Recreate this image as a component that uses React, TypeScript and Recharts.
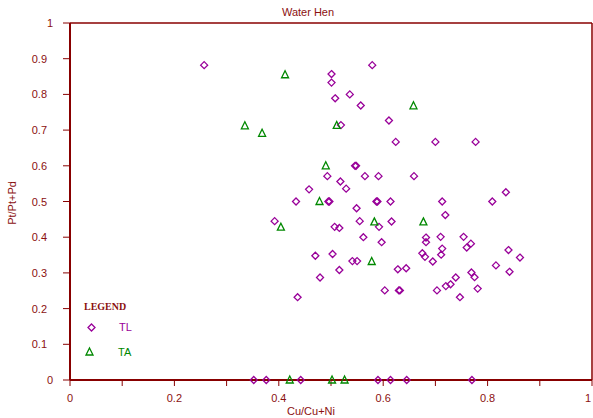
import React from "react";
import { ScatterChart, Scatter, XAxis, YAxis, ReferenceLine, Label } from "recharts";

const title = "Water Hen";
const xTitle = "Cu/Cu+Ni";
const yTitle = "Pt/Pt+Pd";
const seriesNames = ["TL", "TA"];

const tickValues = [0, 0.1, 0.2, 0.3, 0.4, 0.5, 0.6, 0.7, 0.8, 0.9, 1];
const xLabelValues = [0, 0.2, 0.4, 0.6, 0.8, 1];

const tlX = [
  0.257, 0.579, 0.501, 0.501, 0.508, 0.536, 0.557, 0.611, 0.519, 0.624,
  0.700, 0.777, 0.546, 0.548, 0.493, 0.565, 0.591, 0.659, 0.518, 0.458,
  0.529, 0.835, 0.433, 0.495, 0.497, 0.587, 0.589, 0.614, 0.713, 0.809,
  0.549, 0.719, 0.392, 0.555, 0.616, 0.507, 0.516, 0.592, 0.562, 0.597,
  0.682, 0.682, 0.710, 0.754, 0.768, 0.760, 0.713, 0.840, 0.470, 0.503,
  0.675, 0.711, 0.680, 0.862, 0.541, 0.550, 0.695, 0.816, 0.628, 0.644,
  0.516, 0.842, 0.769, 0.775, 0.739, 0.479, 0.729, 0.720, 0.781, 0.603,
  0.630, 0.632, 0.703, 0.436, 0.747,
  0.352, 0.376, 0.442, 0.590, 0.614, 0.645, 0.770,
];
const tlY = [
  0.882, 0.882, 0.857, 0.833, 0.789, 0.800, 0.769, 0.727, 0.714, 0.667,
  0.667, 0.667, 0.600, 0.600, 0.571, 0.571, 0.571, 0.571, 0.556, 0.534,
  0.536, 0.526, 0.500, 0.500, 0.500, 0.500, 0.500, 0.500, 0.500, 0.500,
  0.481, 0.462, 0.445, 0.445, 0.444, 0.429, 0.426, 0.429, 0.400, 0.386,
  0.399, 0.386, 0.401, 0.401, 0.382, 0.371, 0.368, 0.364, 0.348, 0.353,
  0.355, 0.351, 0.345, 0.343, 0.333, 0.333, 0.332, 0.321, 0.310, 0.313,
  0.308, 0.303, 0.301, 0.288, 0.287, 0.287, 0.268, 0.263, 0.256, 0.251,
  0.251, 0.251, 0.251, 0.232, 0.232,
  0, 0, 0, 0, 0, 0, 0,
];

const taX = [0.412, 0.335, 0.368, 0.511, 0.658, 0.490, 0.478, 0.404, 0.583, 0.677, 0.578, 0.421, 0.502, 0.526];
const taY = [0.855, 0.712, 0.691, 0.713, 0.768, 0.600, 0.500, 0.428, 0.443, 0.443, 0.332, 0, 0, 0];

const tlData = tlX.map((x, i) => ({ x, y: tlY[i] }));
const taData = taX.map((x, i) => ({ x, y: taY[i] }));

const AXIS = "#880000";
const TEXT = "#8b1010";
const PURPLE = "#990099";
const GREEN = "#008800";
const FONT = "'Liberation Sans', Arial, sans-serif";
const CHART_W = 593;
const CHART_H = 418;

const Diamond = (props: any) => {
  const { cx, cy } = props;
  if (cx == null || cy == null) return null;
  const r = 3.5;
  return (
    <path
      d={`M${cx},${cy - r}L${cx + r},${cy}L${cx},${cy + r}L${cx - r},${cy}Z`}
      fill="none"
      stroke={PURPLE}
      strokeWidth={1.3}
    />
  );
};

const Triangle = (props: any) => {
  const { cx, cy } = props;
  if (cx == null || cy == null) return null;
  return (
    <path
      d={`M${cx},${cy - 4}L${cx + 3.5},${cy + 3}L${cx - 3.5},${cy + 3}Z`}
      fill="none"
      stroke={GREEN}
      strokeWidth={1.3}
    />
  );
};

const YTick = (props: any) => {
  const { x, y, payload } = props;
  const v = payload.value;
  const isInt = Math.abs(v - Math.round(v)) < 1e-9;
  const label = isInt ? String(Math.round(v)) : v.toFixed(1);
  return (
    <text
      x={isInt ? x - 8 : x - 14}
      y={y}
      textAnchor="end"
      dominantBaseline="central"
      fill={TEXT}
      fontSize={11}
      fontFamily={FONT}
    >
      {label}
    </text>
  );
};

const XTick = (props: any) => {
  const { x, y, payload } = props;
  const v = payload.value;
  const show = xLabelValues.some((t) => Math.abs(t - v) < 1e-9);
  if (!show) return null;
  const isInt = Math.abs(v - Math.round(v)) < 1e-9;
  const label = isInt ? String(Math.round(v)) : v.toFixed(1);
  const tx = Math.min(x, CHART_W - 5);
  return (
    <text
      x={tx}
      y={y + 10}
      textAnchor="middle"
      dominantBaseline="central"
      fill={TEXT}
      fontSize={11}
      fontFamily={FONT}
    >
      {label}
    </text>
  );
};

export default function App() {
  return (
    <div style={{ position: "absolute", left: 0, top: 0, width: CHART_W, height: CHART_H, background: "#fff" }}>
      <ScatterChart
        width={CHART_W}
        height={CHART_H}
        margin={{ top: 23, right: 1, bottom: 8, left: 10 }}
      >
        <XAxis
          type="number"
          dataKey="x"
          domain={[0, 1]}
          ticks={tickValues}
          interval={0}
          height={30}
          axisLine={{ stroke: AXIS, strokeWidth: 2 }}
          tickLine={{ stroke: AXIS, strokeWidth: 1 }}
          tickSize={6}
          tickMargin={2}
          tick={<XTick />}
        >
          <Label
            content={(p: any) => {
              const vb = p.viewBox;
              return (
                <text
                  x={vb.x + vb.width / 2 - 20}
                  y={411}
                  textAnchor="middle"
                  dominantBaseline="central"
                  fill={TEXT}
                  fontSize={11}
                  fontFamily={FONT}
                >
                  {xTitle}
                </text>
              );
            }}
          />
        </XAxis>
        <YAxis
          type="number"
          dataKey="y"
          domain={[0, 1]}
          ticks={tickValues}
          interval={0}
          width={60}
          axisLine={{ stroke: AXIS, strokeWidth: 2 }}
          tickLine={{ stroke: AXIS, strokeWidth: 1 }}
          tickSize={7}
          tickMargin={2}
          tick={<YTick />}
        >
          <Label
            content={() => (
              <text
                x={12}
                y={203}
                transform="rotate(-90 12 203)"
                textAnchor="middle"
                dominantBaseline="central"
                fill={TEXT}
                fontSize={11}
                fontFamily={FONT}
              >
                {yTitle}
              </text>
            )}
          />
        </YAxis>
        <ReferenceLine y={1} stroke={AXIS} strokeWidth={1.5} ifOverflow="visible" />
        <ReferenceLine x={1} stroke={AXIS} strokeWidth={1.5} ifOverflow="visible" />
        <Scatter name={seriesNames[0]} data={tlData} shape={<Diamond />} isAnimationActive={false} />
        <Scatter name={seriesNames[1]} data={taData} shape={<Triangle />} isAnimationActive={false} />
      </ScatterChart>

      <div
        style={{
          position: "absolute",
          left: 0,
          top: 5,
          width: 616,
          textAlign: "center",
          color: TEXT,
          fontSize: 11,
          fontFamily: FONT,
          lineHeight: "14px",
        }}
      >
        {title}
      </div>

      <div
        style={{
          position: "absolute",
          left: 84,
          top: 300,
          color: TEXT,
          fontSize: 10,
          fontWeight: "bold",
          fontFamily: "'Liberation Serif', 'Times New Roman', serif",
          lineHeight: "14px",
        }}
      >
        LEGEND
      </div>
      <svg style={{ position: "absolute", left: 86, top: 322 }} width={12} height={12}>
        <Diamond cx={5.5} cy={5.5} />
      </svg>
      <div style={{ position: "absolute", left: 119, top: 320, color: PURPLE, fontSize: 11, fontFamily: FONT, lineHeight: "14px" }}>
        {seriesNames[0]}
      </div>
      <svg style={{ position: "absolute", left: 84, top: 346 }} width={12} height={12}>
        <Triangle cx={5.5} cy={6} />
      </svg>
      <div style={{ position: "absolute", left: 118, top: 345, color: GREEN, fontSize: 11, fontFamily: FONT, lineHeight: "14px" }}>
        {seriesNames[1]}
      </div>
    </div>
  );
}
